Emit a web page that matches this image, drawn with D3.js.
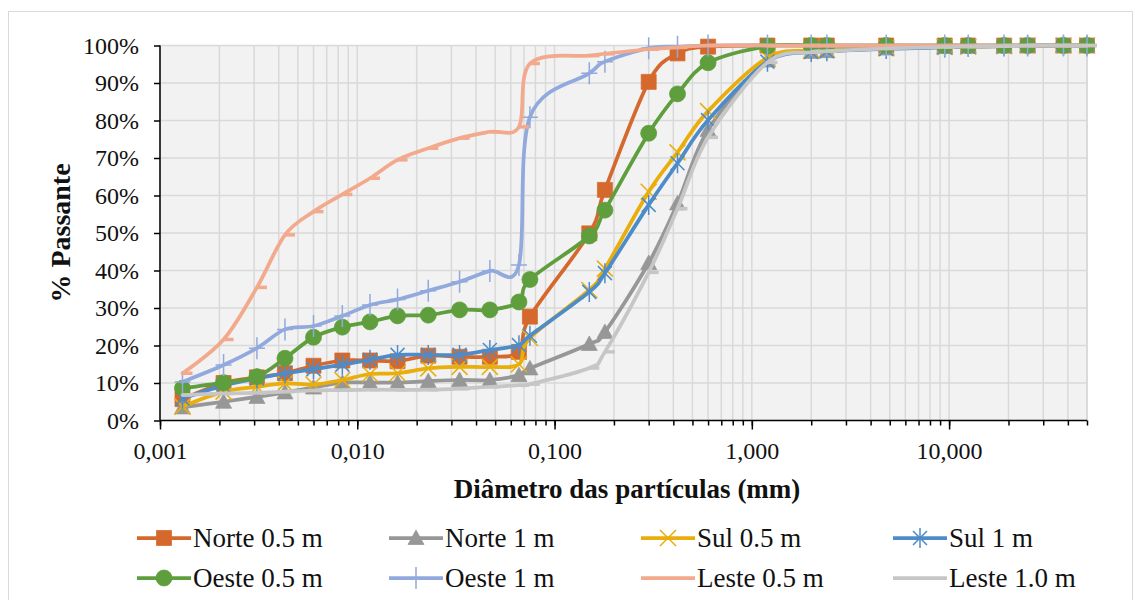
<!DOCTYPE html>
<html>
<head>
<meta charset="utf-8">
<script src="https://cdn.jsdelivr.net/npm/d3@7/dist/d3.min.js"></script>
<style>
  html, body { margin: 0; padding: 0; background: #fff; }
  svg { display: block; }
  text { font-family: "Liberation Serif", "Times New Roman", serif; fill: #111; }
</style>
</head>
<body>
<svg id="chart" width="1135" height="600"></svg>
<script>
// Particle diameters (mm): hydrometer readings followed by sieve openings
const diameters = [0.0013, 0.0021, 0.0031, 0.0043, 0.006, 0.0084, 0.0116, 0.016, 0.0229, 0.033, 0.047, 0.066,
  0.075, 0.15, 0.18, 0.3, 0.42, 0.6, 1.2, 2.0, 2.4, 4.8, 9.5, 12.5, 19, 25, 38, 50];

// Percent passing for each sample
const norte05 = [5.7, 10.0, 11.5, 12.6, 14.6, 16.0, 16.0, 15.8, 17.3, 17.0, 17.0, 18.3, 27.7, 49.9, 61.5, 90.3, 97.9, 99.7, 100, 100, 100, 100, 100, 100, 100, 100, 100, 100];
const norte1 = [3.5, 5.0, 6.3, 7.5, 8.8, 10.1, 10.1, 10.1, 10.5, 10.8, 10.8, 12.1, 13.9, 20.4, 23.6, 42.0, 57.9, 77.5, 96.0, 98.3, 98.5, 99.2, 99.6, 99.7, 99.8, 100, 100, 100];
const sul05 = [3.7, 7.7, 9.0, 9.9, 9.6, 10.8, 12.4, 12.6, 13.9, 14.3, 14.3, 15.0, 22.0, 34.8, 40.5, 61.0, 71.5, 82.5, 96.8, 98.6, 98.8, 99.3, 99.6, 99.7, 99.8, 100, 100, 100];
const sul1 = [5.9, 9.3, 11.2, 12.6, 13.7, 14.9, 16.2, 17.5, 17.5, 17.5, 18.8, 20.1, 22.6, 34.3, 39.3, 57.5, 68.6, 80.1, 95.7, 98.3, 98.5, 99.1, 99.5, 99.7, 99.8, 100, 100, 100];
const oeste05 = [8.6, 10.1, 11.7, 16.6, 22.2, 24.9, 26.3, 27.9, 28.1, 29.5, 29.5, 31.6, 37.6, 49.2, 56.1, 76.6, 87.1, 95.4, 99.8, 100, 100, 100, 100, 100, 100, 100, 100, 100];
const oeste1 = [10.3, 14.8, 19.3, 24.3, 25.2, 27.9, 30.8, 32.3, 34.6, 37.0, 39.9, 41.5, 80.9, 92.6, 95.7, 99.3, 99.7, 100, 100, 100, 100, 100, 100, 100, 100, 100, 100, 100];
const leste05 = [12.6, 21.6, 35.5, 49.5, 55.7, 60.3, 64.6, 69.5, 72.6, 75.3, 77.0, 78.3, 95.2, 97.3, 97.8, 99.0, 99.5, 100, 100, 100, 100, 100, 100, 100, 100, 100, 100, 100];
const leste1 = [6.8, 7.2, 7.4, 7.7, 8.0, 8.1, 8.2, 8.2, 8.2, 8.5, 9.0, 9.4, 9.7, 14.0, 18.3, 39.5, 56.5, 75.5, 95.5, 98.2, 98.5, 99.2, 99.6, 99.7, 99.8, 100, 100, 100];

const seriesNames = ["Norte 0.5 m", "Norte 1 m", "Sul 0.5 m", "Sul 1 m", "Oeste 0.5 m", "Oeste 1 m", "Leste 0.5 m", "Leste 1.0 m"];
const seriesValues = [norte05, norte1, sul05, sul1, oeste05, oeste1, leste05, leste1];
const seriesColors = ["#D5692D", "#979797", "#E9AE0B", "#4D8CC8", "#5F9E3C", "#91A9DD", "#F2A98C", "#C6C6C6"];
const seriesMarkers = ["square", "triangle", "x", "asterisk", "circle", "plus", "dash", "dash"];

const xTickValues = [0.001, 0.01, 0.1, 1, 10];
const xTickLabels = ["0,001", "0,010", "0,100", "1,000", "10,000"];
const yTickValues = [0, 0.1, 0.2, 0.3, 0.4, 0.5, 0.6, 0.7, 0.8, 0.9, 1.0];

const xTitle = "Diâmetro das partículas (mm)";
const yTitle = "% Passante";

const svg = d3.select("#chart");
const plot = { left: 160, right: 1087, top: 45.5, bottom: 420.5 };

const x = d3.scaleLog().domain([0.001, 50]).range([plot.left, plot.right]);
const y = d3.scaleLinear().domain([0, 1]).range([plot.bottom, plot.top]);

// Chart frame
svg.append("rect")
  .attr("x", 8.5).attr("y", 11.5).attr("width", 1124).attr("height", 620)
  .attr("fill", "#fff").attr("stroke", "#d9d9d9").attr("stroke-width", 1);

// Plot background
svg.append("rect")
  .attr("x", plot.left).attr("y", plot.top)
  .attr("width", plot.right - plot.left).attr("height", plot.bottom - plot.top)
  .attr("fill", "#f2f2f2");

// Grid lines: every minor log step vertically, every 10 % horizontally
const minorTicks = x.ticks().filter(v => v >= 0.001 && v <= 50);
const grid = svg.append("g").attr("stroke", "#d9d9d9").attr("stroke-width", 1.5);
grid.selectAll("line.v").data(minorTicks.concat([50])).join("line")
  .attr("class", "v")
  .attr("x1", d => x(d)).attr("x2", d => x(d))
  .attr("y1", plot.top).attr("y2", plot.bottom);
grid.selectAll("line.h").data(yTickValues.slice(1)).join("line")
  .attr("class", "h")
  .attr("x1", plot.left).attr("x2", plot.right)
  .attr("y1", d => y(d)).attr("y2", d => y(d));

// Axes
const xMinorAxis = d3.axisBottom(x).tickValues(minorTicks).tickSize(5).tickFormat("");
const xMajorAxis = d3.axisBottom(x).tickValues(xTickValues).tickSize(9)
  .tickFormat((d, i) => xTickLabels[i]);
const yAxis = d3.axisLeft(y).tickValues(yTickValues).tickSize(6).tickFormat(d3.format(".0%"));

function styleAxis(g) {
  g.select(".domain").attr("stroke", "#000").attr("stroke-width", 1.5);
  g.selectAll(".tick line").attr("stroke", "#000").attr("stroke-width", 1.5);
  g.selectAll("text").style("font-family", "'Liberation Serif', serif").style("font-size", "24px").attr("fill", "#111");
}

svg.append("g").attr("transform", `translate(0,${plot.bottom})`).call(xMinorAxis).call(styleAxis)
  .select(".domain").remove();
const gx = svg.append("g").attr("transform", `translate(0,${plot.bottom})`).call(xMajorAxis).call(styleAxis);
gx.select(".domain").attr("d", `M${plot.left},0H${plot.right}`);
gx.selectAll(".tick text").attr("y", 21).attr("dy", "0.71em");

const gy = svg.append("g").attr("transform", `translate(${plot.left},0)`).call(yAxis).call(styleAxis);
gy.select(".domain").attr("d", `M0,${plot.top}V${plot.bottom}`);
gy.selectAll(".tick text").attr("x", -21);

// Axis titles
svg.append("text")
  .attr("x", 627).attr("y", 498)
  .attr("text-anchor", "middle")
  .style("font-size", "27px").style("font-weight", "bold")
  .text(xTitle);
svg.append("text")
  .attr("transform", `translate(70,${(plot.top + plot.bottom) / 2}) rotate(-90)`)
  .attr("text-anchor", "middle")
  .style("font-size", "28px").style("font-weight", "bold")
  .text(yTitle);

// Marker shapes
function markerPath(type) {
  switch (type) {
    case "square": return "M-7.5,-7.5H7.5V7.5H-7.5Z";
    case "triangle": return "M0,-8L8,6.5H-8Z";
    case "circle": return "M8,0A8,8 0 1,1 -8,0A8,8 0 1,1 8,0Z";
    case "x": return "M-8,-8L8,8M-8,8L8,-8";
    case "asterisk": return "M-7,-7L7,7M-7,7L7,-7M0,-10V10";
    case "plus": return "M-8,0H8M0,-11V11";
    case "dash": return "M0,0H10";
  }
}
const filledMarkers = new Set(["square", "triangle", "circle"]);

function drawMarker(g, type, color) {
  const p = g.append("path").attr("d", markerPath(type));
  if (filledMarkers.has(type)) {
    p.attr("fill", color).attr("stroke", color).attr("stroke-width", 0.75);
  } else if (type === "dash") {
    p.attr("fill", "none").attr("stroke", color).attr("stroke-width", 3.5);
  } else {
    p.attr("fill", "none").attr("stroke", color).attr("stroke-width", 1.5);
  }
}

// Smoothed curves, each series drawn with its own markers on top
const line = d3.line()
  .x(d => x(d.d))
  .y(d => y(d.p / 100))
  .curve(d3.curveCardinal.tension(0));

seriesNames.forEach((name, i) => {
  const pts = diameters.map((d, k) => ({ d: d, p: seriesValues[i][k] }));
  const g = svg.append("g").attr("class", "series");
  g.append("path")
    .datum(pts)
    .attr("d", line)
    .attr("fill", "none")
    .attr("stroke", seriesColors[i])
    .attr("stroke-width", 3.75)
    .attr("stroke-linejoin", "round")
    .attr("stroke-linecap", "round");
  pts.forEach(pt => {
    const mg = g.append("g").attr("transform", `translate(${x(pt.d)},${y(pt.p / 100)})`);
    drawMarker(mg, seriesMarkers[i], seriesColors[i]);
  });
});

// Legend: four columns, two rows
const legend = svg.append("g");
seriesNames.forEach((name, i) => {
  const col = i % 4, row = Math.floor(i / 4);
  const lx = 137 + col * 252, ly = 538 + row * 40;
  const item = legend.append("g").attr("transform", `translate(${lx},${ly})`);
  item.append("line")
    .attr("x1", 0).attr("x2", 54).attr("y1", 0).attr("y2", 0)
    .attr("stroke", seriesColors[i]).attr("stroke-width", 3.75);
  if (seriesMarkers[i] !== "dash") {
    const mg = item.append("g").attr("transform", "translate(27,0)");
    drawMarker(mg, seriesMarkers[i], seriesColors[i]);
  }
  item.append("text")
    .attr("x", 56).attr("y", 9)
    .style("font-size", "27px")
    .text(name);
});
</script>
</body>
</html>
